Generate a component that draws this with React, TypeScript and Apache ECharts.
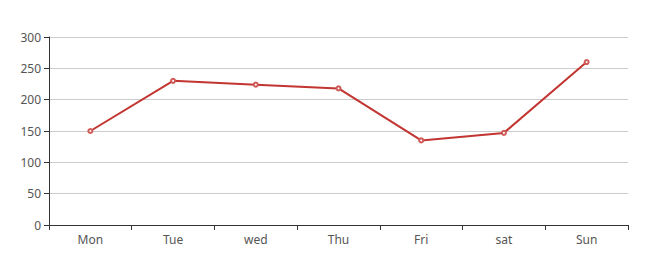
import React, { useEffect, useRef } from "react";
import * as echarts from "echarts";

const categories = ["Mon", "Tue", "wed", "Thu", "Fri", "sat", "Sun"];
const values = [150, 230, 224, 218, 135, 147, 260];

export default function App() {
  const ref = useRef<HTMLDivElement>(null);
  useEffect(() => {
    document.body.style.margin = "0";
    const chart = echarts.init(ref.current!, null, { renderer: "svg" });
    chart.setOption({
      animation: false,
      grid: { left: 49, right: 26, top: 37, bottom: 41, containLabel: false },
      xAxis: {
        type: "category",
        data: categories,
        boundaryGap: true,
        axisLine: { lineStyle: { color: "#333" } },
        axisTick: { show: true, alignWithLabel: false, lineStyle: { color: "#333" } },
        axisLabel: { color: "#555", fontSize: 12, fontFamily: "'Noto Sans', sans-serif", margin: 8 },
        splitLine: { show: false },
      },
      yAxis: {
        type: "value",
        min: 0,
        max: 300,
        interval: 50,
        axisLine: { show: true, lineStyle: { color: "#333" } },
        axisTick: { show: true, lineStyle: { color: "#333" } },
        axisLabel: { color: "#555", fontSize: 12, fontFamily: "'Noto Sans', sans-serif", margin: 8 },
        splitLine: { show: true, lineStyle: { color: "#ccc" } },
      },
      series: [
        {
          type: "line",
          data: values,
          symbol: "emptyCircle",
          symbolSize: 4,
          lineStyle: { color: "#c23531", width: 2 },
          itemStyle: { color: "#d05a57", borderColor: "#d05a57", borderWidth: 1 },
        },
      ],
    });
    return () => chart.dispose();
  }, []);
  return <div ref={ref} style={{ width: 654, height: 266 }} />;
}
